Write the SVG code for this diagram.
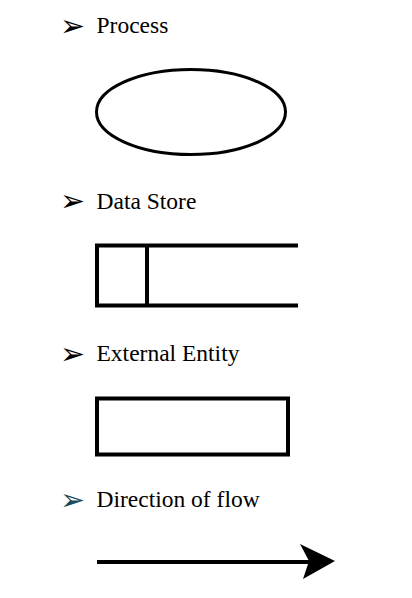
<svg xmlns="http://www.w3.org/2000/svg" width="412" height="598" viewBox="0 0 412 598">
<style>
.lbl{font-family:"Liberation Serif","Times New Roman",serif;font-size:23.5px;fill:#000}
.bul{font-family:"DejaVu Sans",sans-serif;font-size:30px;fill:#000}
.shp{fill:#fff;stroke:#000;stroke-width:4}
</style>
<rect width="412" height="598" fill="#fff"/>
<g id="process">
<text class="bul" x="60" y="36">➢</text>
<text class="lbl" x="96.5" y="33">Process</text>
<ellipse cx="191" cy="112" rx="94.5" ry="42.5" fill="#fff" stroke="#000" stroke-width="3"/>
</g>
<g id="datastore">
<text class="bul" x="60" y="211">➢</text>
<text class="lbl" x="96.5" y="208.5">Data Store</text>
<path d="M298 245.5 H97 V305.5 H298 M147 245.5 V305.5" fill="none" stroke="#000" stroke-width="4"/>
</g>
<g id="entity">
<text class="bul" x="60" y="364">➢</text>
<text class="lbl" x="96.5" y="361">External Entity</text>
<rect class="shp" x="97" y="398.5" width="191" height="56"/>
</g>
<g id="flow">
<text class="bul" x="60" y="510" style="fill:#1b4a5a">➢</text>
<text class="lbl" x="96.5" y="507">Direction of flow</text>
</g>
<g id="connectors">
<line x1="97" y1="562" x2="312" y2="562" stroke="#000" stroke-width="4"/>
<polygon points="300,544 335,561 303,579 309,561" fill="#000"/>
</g>
</svg>
